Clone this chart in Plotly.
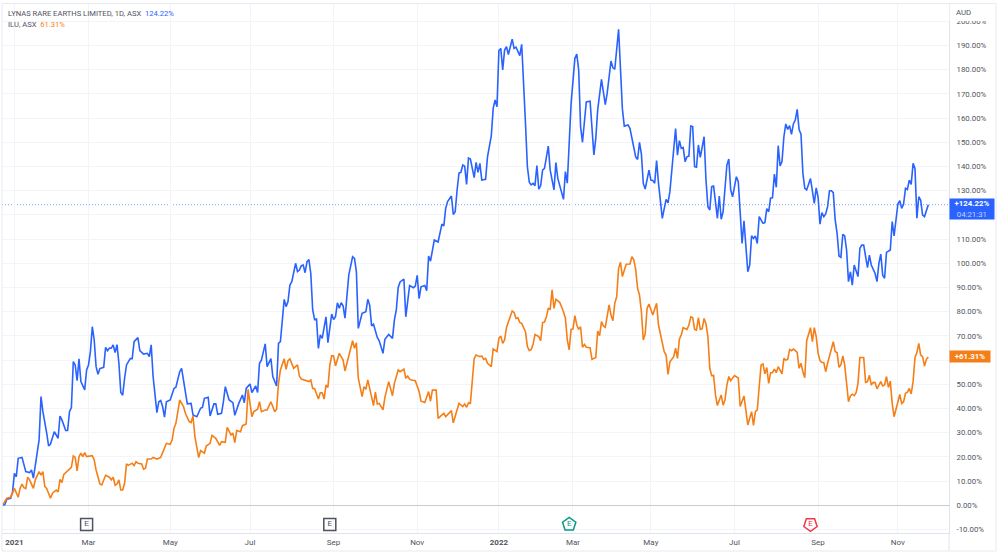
import plotly.graph_objects as go

# Percent change since the first session, as (session number, percent) turning points.
lynas_line = [
    (0,0.0),(1,0.4),(2,2.5),(4,2.9),(5,5.4),(6,13.2),(7,11.8),(8,19.4),(10,19.8),(11,16.7),(12,13.9),(14,13.5),(15,14.6),(16,11.2),
    (19,27.0),(20,44.9),(21,38.7),(23,29.8),(24,24.5),(25,25.3),(27,30.4),(29,27.7),(30,36.9),(31,35.3),(33,30.9),(34,30.9),(35,38.7),(36,40.4),
    (37,59.4),(38,58.0),(39,51.5),(40,60.5),(41,51.1),(43,47.7),(44,55.9),(45,58.0),(46,63.5),(47,73.8),(48,68.3),(49,57.3),(50,54.1),(51,56.5),
    (53,57.0),(54,65.3),(55,63.9),(56,65.0),(57,64.9),(58,66.3),(59,63.1),(60,66.4),(61,58.7),(62,46.6),(63,45.5),(64,52.5),(65,58.0),(67,60.6),
    (68,60.6),(69,67.6),(71,69.3),(72,63.9),(74,62.5),(76,62.8),(77,61.4),(78,66.3),(79,53.2),(81,38.3),(82,42.8),(83,43.3),(84,40.8),(85,36.4),
    (86,42.8),(88,43.5),(90,48.3),(91,48.8),(93,55.2),(94,56.6),(95,51.1),(97,41.9),(99,42.1),(100,37.3),(102,36.6),(104,40.1),(105,40.5),(106,44.2),
    (108,44.6),(109,36.9),(111,41.9),(112,41.9),(113,37.6),(115,38.0),(116,42.8),(117,49.0),(119,43.5),(121,42.4),(122,37.2),(124,41.9),(126,45.6),
    (127,42.4),(128,48.3),(130,50.1),(131,46.6),(133,49.3),(134,46.6),(135,58.7),(136,60.0),(138,66.7),(139,57.3),(141,60.6),(142,53.2),(144,49.3),
    (145,66.9),(146,67.6),(148,85.1),(149,82.1),(150,84.2),(151,91.0),(152,92.4),(154,100.0),(155,96.6),(156,97.2),
    (157,99.0),(158,99.3),(159,96.1),(160,100.7),(161,101.5),(162,95.8),(163,80.7),(164,76.8),(165,77.0),(166,64.8),(167,70.4),(168,69.0),(170,77.9),
    (171,67.2),(173,79.0),(174,76.8),(175,77.9),(176,83.7),(177,81.4),(178,83.7),(179,82.4),(180,77.3),(182,95.2),(184,102.7),(185,102.0),(186,96.5),
    (187,73.1),(189,79.3),(191,80.0),(192,85.1),(193,82.7),(194,74.1),(195,74.8),(197,69.4),(198,68.0),(200,62.8),(201,68.6),(203,70.6),(205,69.0),
    (206,76.6),(207,80.7),(208,90.0),(209,92.3),(211,93.5),(212,77.9),(214,90.8),(216,89.9),(217,90.6),(218,95.0),(219,85.4),(220,90.3),(222,90.8),
    (223,88.7),(224,103.0),(225,100.9),(227,109.6),(229,108.8),(231,116.2),(232,115.4),(233,122.7),
    (234,125.5),(236,127.8),(237,120.2),(238,121.3),(239,130.3),(240,137.3),(241,137.6),(242,140.6),(243,140.1),(244,132.6),(245,143.5),(246,143.1),
    (248,135.4),(249,141.7),(250,137.6),(251,141.3),(252,134.4),(254,134.7),(255,144.0),(257,152.6),(258,164.0),(259,167.5),(260,164.7),(261,187.9),
    (262,188.8),(263,179.9),(264,188.1),(265,189.5),(266,186.3),(268,192.6),(269,188.8),(270,189.3),(272,185.8),(273,190.5),(275,157.8),(276,139.9),
    (277,133.5),(278,132.4),(279,133.0),(280,132.1),(281,140.4),(282,130.6),(283,132.1),(284,138.5),(285,139.2),(287,148.4),(288,138.5),(290,130.3),
    (291,141.6),(292,135.1),(295,126.4),(296,137.9),(297,133.1),(299,166.1),(301,184.7),(302,186.4),(303,179.9),(304,156.5),(305,150.0),(307,166.7),
    (309,167.0),(311,144.8),(312,151.6),(313,163.4),(315,176.0),(317,165.6),(318,170.3),(320,183.6),(321,180.8),(322,180.2),(324,196.7),(325,177.2),
    (326,163.8),(327,156.7),(329,157.2),(330,155.7),(333,144.0),(334,142.9),(335,150.0),(336,145.2),(337,133.0),(338,130.7),(340,138.5),(341,134.4),
    (342,134.2),(343,133.1),(344,142.4),(345,133.1),(347,118.6),(349,126.4),(350,125.0),(351,129.6),(354,155.7),(355,144.7),(356,150.7),(357,147.5),
    (358,147.9),(359,142.0),(360,144.0),(361,144.3),(362,156.7),(363,156.5),(364,139.9),(365,139.7),(366,148.9),(367,143.8),(369,152.3),(370,134.4),
    (371,123.4),(372,122.0),(373,131.7),(374,131.9),(376,118.6),(377,127.8),(378,118.2),(379,121.3),(381,140.6),(382,143.1),(383,130.3),(384,127.5),
    (386,135.8),(387,133.7),(388,119.3),(389,108.2),(390,117.6),(392,96.5),(393,99.3),(394,111.4),(395,110.3),(396,111.3),(397,108.2),(398,119.3),
    (400,116.5),(401,116.8),(402,122.6),(403,121.3),(404,127.0),(405,127.1),(406,136.9),(407,131.4),(408,148.6),(409,140.2),(410,142.0),(411,152.3),
    (412,157.6),(413,155.3),(414,156.9),(415,153.3),(416,157.6),(417,159.2),(418,163.6),(419,155.3),(420,153.4),(421,137.2),(422,131.0),(423,130.3),
    (425,135.0),(427,124.8),(428,131.2),(429,127.3),(430,116.2),(431,120.9),(432,119.3),(433,120.4),(434,123.4),(435,130.0),(436,130.0),(437,129.2),
    (438,117.9),(439,112.4),(440,103.0),(441,102.5),(442,112.0),(443,111.3),(444,105.5),(445,92.4),(446,96.5),(447,91.0),(448,99.3),(450,94.5),
    (451,106.2),(452,107.5),(453,107.5),(455,98.2),(456,103.4),(457,99.3),(459,95.8),(460,92.4),(461,100.0),(462,103.8),(463,95.1),(464,93.8),
    (465,104.5),(467,105.5),(468,117.2),(469,111.3),(471,124.5),(472,125.9),(473,122.7),(474,124.5),(475,131.0),(476,130.5),(477,134.4),(478,132.6),
    (479,141.3),(480,139.2),(481,118.6),(482,127.5),(483,126.1),(484,119.9),(485,119.3),(487,124.22),
]

iluka_line = [
    (0,0.4),(1,1.7),(2,2.9),(4,3.3),(5,5.6),(6,7.0),(8,3.3),(9,7.0),(10,8.8),(11,7.3),(12,6.9),(13,11.6),(14,10.5),(16,7.0),(17,10.5),(19,13.9),
    (20,12.5),(21,13.9),(22,7.7),(23,7.0),(25,2.9),(26,5.0),(28,6.3),(29,5.5),(30,10.7),(31,9.4),(32,12.8),(34,14.3),(36,15.7),(37,20.4),(38,19.8),
    (39,14.2),(40,20.1),(41,21.5),(42,20.1),(43,21.8),(44,20.1),(47,20.5),(48,18.7),(49,14.6),(50,11.8),(51,8.8),(52,8.4),(54,12.4),(56,11.6),(57,10.5),
    (58,11.6),(59,8.3),(60,8.8),(61,10.5),(62,6.3),(63,6.3),(64,9.1),(65,17.1),(66,16.5),(68,17.4),(69,16.4),(70,18.0),(71,17.4),(73,17.1),(74,14.9),
    (75,15.3),(76,19.1),(78,19.1),(79,19.8),(81,19.1),(83,19.8),(84,21.5),(86,25.6),(88,25.2),(89,27.0),(90,31.8),(91,33.9),(93,43.5),(95,40.8),(96,38.0),
    (98,34.6),(99,34.2),(100,36.9),(101,28.4),(102,23.6),(103,19.7),(104,22.6),(106,21.5),(107,24.5),(109,25.6),(110,28.9),(112,27.7),(114,24.8),(115,26.3),
    (117,26.0),(118,32.2),(120,29.1),(121,29.8),(122,25.9),(123,30.9),(125,30.4),(126,32.9),(128,33.6),(129,47.9),(130,42.1),(131,36.6),(132,38.7),
    (134,39.7),(135,42.8),(136,38.7),(138,39.4),(139,39.4),(141,42.8),(143,38.7),(144,39.7),(145,50.4),(146,55.9),(148,60.5),(149,56.2),(150,59.8),
    (151,60.5),(153,56.6),(155,58.0),(156,53.4),(157,52.2),(159,51.8),(161,51.1),(162,51.8),(163,48.3),(164,48.2),(166,43.9),(167,46.5),(168,46.5),
    (169,43.9),(170,49.7),(171,48.7),(172,57.7),(173,61.8),(174,61.7),(175,57.6),(177,62.8),(178,61.4),(179,60.0),(180,55.5),(182,62.1),(184,68.0),
    (185,64.9),(186,67.2),(187,52.5),(189,44.9),(190,49.0),(191,47.9),(192,51.8),(195,41.2),(196,46.8),(197,41.9),(198,42.1),(200,39.4),(201,44.6),
    (203,51.1),(205,45.3),(206,50.4),(208,55.9),(209,55.2),(211,56.3),(212,52.5),(213,53.4),(214,52.1),(215,51.8),(217,51.5),(219,47.0),(220,43.0),
    (222,42.5),(224,47.0),(225,43.0),(226,47.6),(228,47.6),(229,35.9),(232,38.0),(233,36.6),(236,39.1),(237,34.1),(240,42.1),(242,40.8),(243,41.9),
    (244,40.5),(245,42.4),(246,42.1),(248,60.7),(249,62.1),(251,61.4),(252,61.7),(253,60.3),(254,60.7),(255,58.7),(257,57.3),(258,64.6),(260,63.5),
    (261,69.0),(262,69.9),(263,66.9),(264,68.3),(265,73.5),(266,75.6),(268,80.3),(269,79.7),(270,77.2),(271,77.5),(272,75.6),(273,75.2),(275,71.7),
    (276,65.6),(277,63.9),(278,64.4),(279,66.5),(280,70.6),(282,69.7),(283,68.0),(284,75.5),(285,75.7),(286,77.9),(287,81.4),(288,81.0),(289,89.0),
    (290,81.4),(291,85.1),(293,83.9),(295,80.0),(296,77.3),(297,68.3),(298,64.2),(299,72.7),(300,72.9),(301,78.4),(302,74.5),(303,72.7),(304,73.8),
    (305,65.3),(306,66.5),(307,65.3),(309,65.1),(310,60.3),(312,61.1),(313,72.0),(314,70.1),(315,75.9),(316,74.1),(317,73.5),(319,82.8),(320,78.6),
    (321,76.3),(322,83.5),(323,86.2),(324,97.9),(325,100.4),(326,94.5),(328,99.6),(330,99.7),(331,102.7),(332,101.4),(333,97.5),(334,89.6),(335,86.9),
    (336,80.0),(337,68.3),(338,70.8),(339,81.4),(340,83.2),(342,78.6),(344,83.5),(345,74.5),(348,63.5),(349,62.1),(350,54.1),(351,59.3),(353,61.4),
    (354,64.9),(355,60.7),(356,68.6),(357,70.4),(358,73.4),(360,72.7),(361,74.5),(362,77.9),(363,77.6),(364,72.7),(365,72.4),(366,77.5),(367,72.7),
    (368,73.0),(369,77.2),(370,74.9),(371,69.7),(372,56.6),(373,53.6),(374,53.7),(375,45.6),(376,41.2),(378,45.6),(379,41.4),(380,43.5),(381,49.7),
    (382,53.2),(383,51.5),(385,53.6),(387,52.6),(388,40.8),(390,45.2),(391,38.0),(392,33.2),(394,38.7),(395,33.0),(396,38.7),(397,39.4),(398,49.0),
    (399,58.0),(400,58.4),(401,54.3),(402,56.9),(403,50.4),(404,54.8),(405,54.8),(406,56.3),(407,54.8),(408,57.3),(410,54.3),(411,60.7),(412,60.0),
    (413,60.3),(414,64.4),(415,63.9),(416,64.6),(417,63.9),(418,63.2),(419,56.6),(420,58.7),(421,55.2),(422,52.7),(423,68.0),(425,73.4),(426,67.6),
    (427,73.4),(428,69.7),(429,62.8),(430,59.8),(431,59.0),(432,59.0),(433,55.2),(434,58.7),(435,61.7),(436,63.5),(437,67.6),(438,63.5),(439,63.1),
    (440,57.0),(441,58.0),(442,61.7),(443,58.0),(445,42.8),(446,45.2),(447,45.9),(448,45.3),(449,46.5),(450,50.4),(451,61.1),(453,61.1),(454,50.8),
    (455,51.1),(456,53.7),(457,49.7),(458,50.8),(459,50.7),(460,48.1),(462,51.1),(463,49.3),(464,49.7),(465,53.2),(466,48.7),(467,51.3),(468,42.1),
    (469,36.6),(470,39.7),(471,41.9),(472,45.8),(473,42.1),(474,42.8),(475,46.3),(476,46.7),(477,48.3),(478,46.0),(479,51.1),(480,61.1),(481,63.1),
    (482,66.9),(483,62.1),(484,61.4),(485,57.5),(486,60.3),(487,61.31),
]

month_sessions = [6, 45, 88, 130, 174, 218, 261, 300, 341, 385, 429, 471]
month_labels = ["<b>2021</b>", "Mar", "May", "Jul", "Sep", "Nov", "<b>2022</b>", "Mar", "May", "Jul", "Sep", "Nov"]
pct_ticks = list(range(-10, 201, 10))
# The 60% and 120% levels keep their gridlines; the price tags sit where their labels would be.
covered_ticks = [60, 120]
pct_labels = ["" if v in covered_ticks else f"{v:.2f}%" for v in pct_ticks]

earnings_sessions = [44, 172, 298, 425]
earnings_level = -7.9
earnings_symbols = ["square-open", "square-open", "pentagon-open", "pentagon-open"]
earnings_angles = [0, 0, 0, 180]
earnings_sizes = [12, 12, 14, 14]
earnings_colors = ["#50535e", "#50535e", "#089981", "#f23645"]

lynas_name = "LYNAS RARE EARTHS LIMITED, 1D, ASX"
iluka_name = "ILU, ASX"
lynas_last = lynas_line[-1][1]
iluka_last = iluka_line[-1][1]
countdown = "04:21:31"
currency = "AUD"

BLUE = "#2962ff"
ORANGE = "#f57f17"
GRID = "#f3f4f9"
BORDER = "#e0e3eb"
TEXT = "#50535e"
FONT = "Roboto, sans-serif"
W, H = 1000, 555
ML, MR, MT, MB = 2, 51, 4, 22


def paper_x(px):
    return (px - ML) / (W - ML - MR)


def paper_y(py):
    return (H - MB - py) / (H - MT - MB)


fig = go.Figure()

for points, colour, name in [(lynas_line, BLUE, "Lynas"), (iluka_line, ORANGE, "Iluka")]:
    fig.add_trace(go.Scatter(
        x=[p[0] for p in points], y=[p[1] for p in points], mode="lines", name=name,
        line=dict(color=colour, width=1.6), hoverinfo="skip", showlegend=False,
    ))

# Earnings flags along the bottom of the pane
for session, symbol, angle, size, colour in zip(earnings_sessions, earnings_symbols, earnings_angles,
                                                earnings_sizes, earnings_colors):
    fig.add_trace(go.Scatter(
        x=[session], y=[earnings_level], mode="markers+text", text=["E"], textposition="middle center",
        textfont=dict(family=FONT, size=8, color=colour),
        marker=dict(symbol=symbol, size=size, angle=angle, color=colour, line=dict(color=colour, width=1.5)),
        hoverinfo="skip", showlegend=False, cliponaxis=False,
    ))

shapes = [
    # last-price guide
    dict(type="line", xref="paper", yref="y", x0=0, x1=1, y0=lynas_last, y1=lynas_last,
         line=dict(color="rgba(41,98,255,0.6)", width=1, dash="1px,2px"), layer="below"),
    # white strip that the currency label sits on
    dict(type="rect", xref="paper", yref="paper", x0=1.0007, x1=paper_x(995), y0=paper_y(21), y1=paper_y(4),
         fillcolor="white", line_width=0, layer="above"),
    # outer frame of the widget
    dict(type="rect", xref="paper", yref="paper", x0=paper_x(2), x1=paper_x(996), y0=paper_y(551), y1=paper_y(3.5),
         fillcolor="rgba(0,0,0,0)", line=dict(color="#e8eaf2", width=1), layer="above"),
    # price scale border carried down through the time scale
    dict(type="line", xref="paper", yref="paper", x0=1, x1=1, y0=paper_y(551), y1=0,
         line=dict(color=BORDER, width=1), layer="above"),
]

annotations = [
    dict(xref="paper", yref="paper", x=paper_x(5.5), y=paper_y(13), xanchor="left", yanchor="middle", showarrow=False,
         font=dict(family=FONT, size=7.6, color=TEXT),
         text=f'{lynas_name}  <span style="color:{BLUE}">{lynas_last:.2f}%</span>'),
    dict(xref="paper", yref="paper", x=paper_x(5.5), y=paper_y(24.5), xanchor="left", yanchor="middle", showarrow=False,
         font=dict(family=FONT, size=7.6, color=TEXT),
         text=f'{iluka_name}  <span style="color:{ORANGE}">{iluka_last:.2f}%</span>'),
    dict(xref="paper", yref="paper", x=paper_x(954.5), y=paper_y(12.5), xanchor="left", yanchor="middle", showarrow=False,
         font=dict(family=FONT, size=7.8, color=TEXT), text=currency),
    dict(xref="paper", yref="y", x=1, y=lynas_last, xanchor="left", yanchor="middle", yshift=-4.6, showarrow=False,
         width=44, height=20, bgcolor=BLUE, borderpad=0, align="center",
         font=dict(family=FONT, size=7.8, color="white"),
         text=f'<b>+{lynas_last:.2f}%</b><br><span style="color:#c5d3ff">{countdown}</span>'),
    dict(xref="paper", yref="y", x=1, y=iluka_last, xanchor="left", yanchor="middle", showarrow=False,
         width=40, height=11, bgcolor=ORANGE, borderpad=0, align="center",
         font=dict(family=FONT, size=7.8, color="white"), text=f"<b>+{iluka_last:.2f}%</b>"),
]

fig.update_layout(
    width=W, height=H, margin=dict(l=ML, r=MR, t=MT, b=MB, autoexpand=False),
    paper_bgcolor="white", plot_bgcolor="white", showlegend=False,
    shapes=shapes, annotations=annotations, font=dict(family=FONT, size=8, color=TEXT),
    xaxis=dict(
        range=[-0.526, 497.9], tickmode="array", tickvals=month_sessions, ticktext=month_labels,
        showgrid=True, gridcolor=GRID, gridwidth=1, zeroline=False, ticks="", ticklabelstandoff=1,
        showline=True, linecolor=BORDER, linewidth=1, tickfont=dict(family=FONT, size=8, color=TEXT),
    ),
    yaxis=dict(
        side="right", range=[-11.45, 207.15], tickmode="array", tickvals=pct_ticks, ticktext=pct_labels,
        showgrid=True, gridcolor=GRID, gridwidth=1, zeroline=True, zerolinecolor="#c8cad0", zerolinewidth=1,
        ticks="", ticklabelstandoff=5, showline=True, linecolor=BORDER, linewidth=1,
        tickfont=dict(family=FONT, size=7.8, color=TEXT),
    ),
)

fig.write_html("out.html", config=dict(displayModeBar=False))
